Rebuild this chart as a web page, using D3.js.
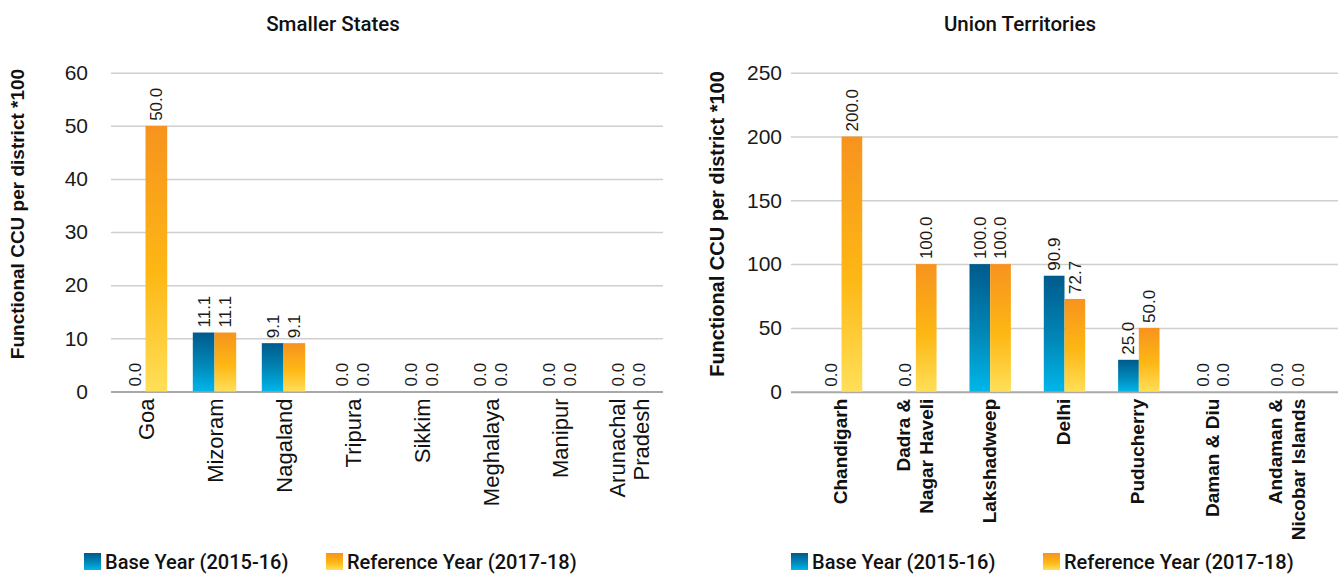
<!DOCTYPE html>
<html><head><meta charset="utf-8">
<script src="https://cdn.jsdelivr.net/npm/d3@7"></script>
<style>
html,body{margin:0;padding:0;background:#fff;}
svg{display:block;}
</style></head>
<body>
<svg id="chart" width="1344" height="574"></svg>
<script>
// ---- data ----
const statesCategories = ["Goa", "Mizoram", "Nagaland", "Tripura", "Sikkim", "Meghalaya", "Manipur", "Arunachal Pradesh"];
const statesBase = [0, 11.1, 9.1, 0, 0, 0, 0, 0];
const statesRef = [50, 11.1, 9.1, 0, 0, 0, 0, 0];
const statesTicks = [0, 10, 20, 30, 40, 50, 60];
const statesLabelLines = [["Goa"], ["Mizoram"], ["Nagaland"], ["Tripura"], ["Sikkim"], ["Meghalaya"], ["Manipur"], ["Arunachal", "Pradesh"]];

const utCategories = ["Chandigarh", "Dadra & Nagar Haveli", "Lakshadweep", "Delhi", "Puducherry", "Daman & Diu", "Andaman & Nicobar Islands"];
const utBase = [0, 0, 100, 90.9, 25, 0, 0];
const utRef = [200, 100, 100, 72.7, 50, 0, 0];
const utTicks = [0, 50, 100, 150, 200, 250];
const utLabelLines = [["Chandigarh"], ["Dadra &", "Nagar Haveli"], ["Lakshadweep"], ["Delhi"], ["Puducherry"], ["Daman & Diu"], ["Andaman &", "Nicobar Islands"]];

const seriesNames = ["Base Year (2015-16)", "Reference Year (2017-18)"];
const titles = ["Smaller States", "Union Territories"];
const yTitle = "Functional CCU per district *100";

const svg = d3.select("#chart");
svg.append("rect").attr("width", 1344).attr("height", 574).attr("fill", "#fff");

const defs = svg.append("defs");
const gBlue = defs.append("linearGradient").attr("id", "gBlue").attr("x1", 0).attr("y1", 0).attr("x2", 0).attr("y2", 1);
gBlue.append("stop").attr("offset", "0%").attr("stop-color", "#005a8c");
gBlue.append("stop").attr("offset", "55%").attr("stop-color", "#0088b8");
gBlue.append("stop").attr("offset", "100%").attr("stop-color", "#00b6ea");
const gOrange = defs.append("linearGradient").attr("id", "gOrange").attr("x1", 0).attr("y1", 0).attr("x2", 0).attr("y2", 1);
gOrange.append("stop").attr("offset", "0%").attr("stop-color", "#f7931e");
gOrange.append("stop").attr("offset", "55%").attr("stop-color", "#fdb714");
gOrange.append("stop").attr("offset", "100%").attr("stop-color", "#ffdf58");
const fills = ["url(#gBlue)", "url(#gOrange)"];

function drawPanel(cfg) {
  const g = svg.append("g");
  const x = d3.scalePoint().domain(cfg.categories).range([cfg.x0, cfg.x1]).padding(cfg.pad);
  const y = d3.scaleLinear().domain([0, cfg.max]).range([cfg.yBottom, cfg.yTop]);
  const bw = cfg.barW;

  // grid + tick labels
  const axis = d3.axisLeft(y).tickValues(cfg.ticks).tickSize(-(cfg.x1 - cfg.x0)).tickPadding(cfg.tickPad).tickFormat(d3.format("d"));
  const ax = g.append("g").attr("transform", `translate(${cfg.x0},0)`).call(axis);
  ax.select(".domain").remove();
  ax.selectAll(".tick line").attr("stroke", "#cfcfcf").attr("stroke-width", 1.5);
  ax.selectAll(".tick").filter(d => d === 0).select("line").attr("stroke", "#a8a8a8").attr("stroke-width", 2);
  ax.selectAll(".tick text").attr("font-family", "Liberation Sans, Arial, sans-serif").attr("font-size", 21).attr("fill", "#1a1a1a");

  const series = [cfg.base, cfg.ref];
  series.forEach((vals, si) => {
    g.selectAll(null).data(cfg.categories).enter().append("rect")
      .attr("x", d => x(d) - (si === 0 ? bw : 0))
      .attr("y", (d, i) => y(vals[i]))
      .attr("width", bw)
      .attr("height", (d, i) => y(0) - y(vals[i]))
      .attr("fill", fills[si]);
    g.selectAll(null).data(cfg.categories).enter().append("text")
      .attr("transform", (d, i) => `translate(${x(d) + (si === 0 ? -bw / 2 : bw / 2)},${y(vals[i]) - 5}) rotate(-90)`)
      .attr("dy", "0.35em")
      .attr("text-anchor", "start")
      .attr("font-family", "Liberation Sans, Arial, sans-serif")
      .attr("font-size", 17)
      .attr("fill", "#1a1a1a")
      .text((d, i) => vals[i].toFixed(1));
  });

  // category labels
  cfg.categories.forEach((c, i) => {
    const lines = cfg.labelLines[i];
    const n = lines.length;
    lines.forEach((ln, li) => {
      const off = (li - (n - 1) / 2) * cfg.lineH + cfg.labelShift;
      g.append("text")
        .attr("transform", `translate(${x(c) + off},${cfg.yBottom + 7}) rotate(-90)`)
        .attr("dy", "0.35em")
        .attr("text-anchor", "end")
        .attr("font-family", "Liberation Sans, Arial, sans-serif")
        .attr("font-size", cfg.catSize)
        .attr("font-weight", cfg.catWeight)
        .attr("fill", "#111")
        .text(ln);
    });
  });

  // title
  g.append("text").attr("x", cfg.titleX).attr("y", 31).attr("text-anchor", "middle")
    .attr("font-family", "Roboto, Liberation Sans, sans-serif").attr("font-weight", 500)
    .attr("font-size", 20.5).attr("fill", "#111").text(cfg.title);

  // y title
  g.append("text").attr("transform", `translate(${cfg.yTitleX},${cfg.yTitleY}) rotate(-90)`)
    .attr("dy", "0.35em").attr("text-anchor", "middle")
    .attr("font-family", "Liberation Sans, Arial, sans-serif").attr("font-weight", 700)
    .attr("font-size", cfg.yTitleSize).attr("fill", "#111").text(yTitle);

  // legend
  const lg = g.append("g");
  cfg.legendX.forEach((lx, si) => {
    lg.append("rect").attr("x", lx).attr("y", 553).attr("width", 17).attr("height", 17).attr("fill", fills[si]);
    lg.append("text").attr("x", lx + 21).attr("y", 562).attr("dy", "0.35em")
      .attr("font-family", "Roboto, Liberation Sans, sans-serif").attr("font-weight", 500)
      .attr("font-size", 20).attr("fill", "#111").text(seriesNames[si]);
  });
}

drawPanel({
  categories: statesCategories, base: statesBase, ref: statesRef, ticks: statesTicks, labelLines: statesLabelLines,
  x0: 111, x1: 663, pad: 0.5, yTop: 72.7, yBottom: 391.5, max: 60, barW: 21.7, tickPad: 23,
  catSize: 22, catWeight: 400, lineH: 24, labelShift: 1,
  title: titles[0], titleX: 333, yTitleX: 17, yTitleY: 214, yTitleSize: 19, legendX: [84, 326]
});
drawPanel({
  categories: utCategories, base: utBase, ref: utRef, ticks: utTicks, labelLines: utLabelLines,
  x0: 791, x1: 1338, pad: 0.68, yTop: 72.7, yBottom: 391.7, max: 250, barW: 20.7, tickPad: 9,
  catSize: 19, catWeight: 700, lineH: 23, labelShift: -1,
  title: titles[1], titleX: 1020, yTitleX: 717, yTitleY: 224, yTitleSize: 20, legendX: [791, 1043]
});
</script>
</body></html>
